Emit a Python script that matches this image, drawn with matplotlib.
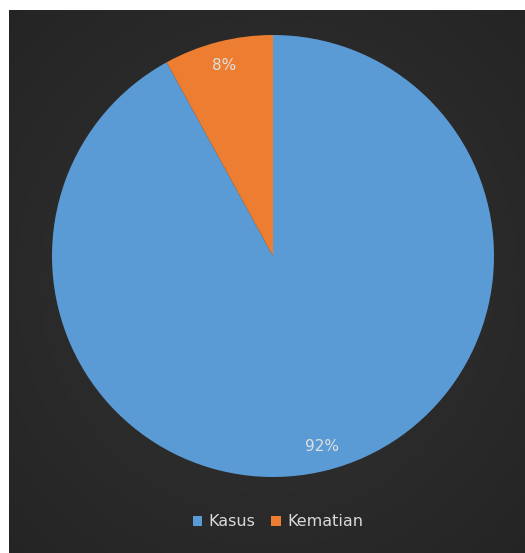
import matplotlib
matplotlib.use("Agg")
import matplotlib.pyplot as plt
import numpy as np

labels = ["Kasus", "Kematian"]
values = [92, 8]
colors = ["#5B9BD5", "#ED7D31"]

W, H = 525, 553
fig = plt.figure(figsize=(W / 100, H / 100), dpi=100, facecolor="white")

# dark background panel
bg = fig.add_axes([9 / W, 0, 1 - 9 / W, 1 - 10 / H])
yy, xx = np.mgrid[-1:1:200j, -1:1:200j]
rr = np.sqrt(xx ** 2 + yy ** 2)
grad = 0.20 - 0.04 * np.clip(rr, 0, 1.4)
bg.imshow(np.dstack([grad, grad, grad]), extent=[0, 1, 0, 1], aspect="auto")
bg.set_axis_off()

cx, cy, r = 273, 256, 221
ax = fig.add_axes([(cx - r) / W, (H - cy - r) / H, 2 * r / W, 2 * r / H])
ax.set_facecolor("none")
wedges, texts, autotexts = ax.pie(
    values, colors=colors, startangle=90, counterclock=False,
    autopct="%1.0f%%", pctdistance=0.89,
    wedgeprops=dict(edgecolor="none"),
    textprops=dict(color="#e0e0e0", fontsize=11),
)
ax.set_xlim(-1, 1)
ax.set_ylim(-1, 1)
ax.set_aspect("equal")
ax.set_axis_off()

leg = fig.legend(wedges, labels, loc="center", bbox_to_anchor=(278 / W, 1 - 522 / H),
                 ncol=2, frameon=False, fontsize=11.5, labelcolor="#d9d9d9",
                 handlelength=0.6, handleheight=0.6, handletextpad=0.4,
                 columnspacing=1.0)

fig.savefig("out.png", dpi=100, facecolor="white")
